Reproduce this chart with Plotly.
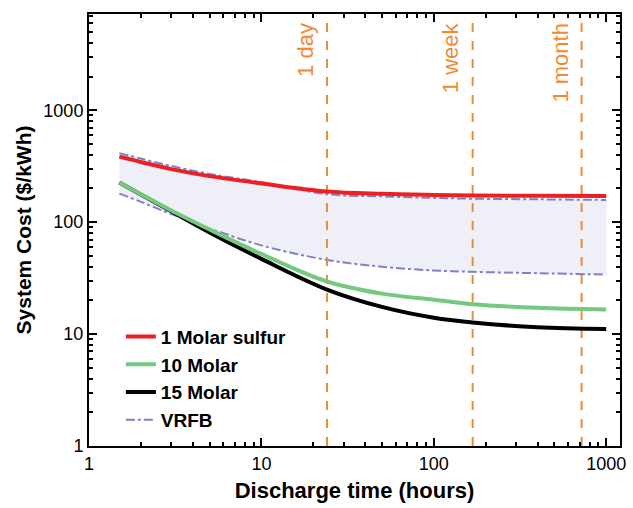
import plotly.graph_objects as go
import numpy as np

hours = [1.5, 2, 3, 5, 10, 24, 50, 100, 168, 400, 1000]
sulfur_1m = [385, 345, 298, 258, 222, 188, 179, 175, 173, 172, 171]
molar_10 = [226, 178, 127, 86, 52, 29.5, 23, 20.3, 18.5, 17.2, 16.6]
molar_15 = [226, 177, 125, 81, 47, 25, 17.5, 14.0, 12.7, 11.5, 11.1]
vrfb_upper = [414, 370, 318, 270, 228, 178, 170, 165, 162, 160, 158]
vrfb_lower = [180, 152, 118, 88, 62, 46, 40, 37, 36, 35, 34]

markers_h = [24, 168, 720]
marker_labels = ["1 day", "1 week", "1 month"]

tick_vals = [1, 10, 100, 1000]
tick_text = ["1", "10", "100", "1000"]

FONT = "Arial, Liberation Sans, sans-serif"
ORANGE = "#f08a30"
VCOL = "#7f7fca"
vline = dict(color=VCOL, width=2, dash="dashdot", shape="spline")

fig = go.Figure()

# VRFB band
fig.add_trace(go.Scatter(x=hours, y=vrfb_lower, mode="lines", line=vline, showlegend=False, hoverinfo="skip"))
fig.add_trace(go.Scatter(x=hours, y=vrfb_upper, mode="lines", line=vline,
                         fill="tonexty", fillcolor="rgba(235,235,246,0.8)", showlegend=False))
# legend entry for VRFB (line only)
fig.add_trace(go.Scatter(x=[None], y=[None], mode="lines", line=vline, name="VRFB", legendrank=4))

# vertical marker lines
for h in markers_h:
    fig.add_trace(go.Scatter(x=[h, h], y=[1, 7300], mode="lines", line=dict(color=ORANGE, width=2, dash="dash"),
                             showlegend=False, hoverinfo="skip"))

fig.add_trace(go.Scatter(x=hours, y=molar_15, mode="lines", line=dict(color="black", width=4, shape="spline"),
                         name="15 Molar", legendrank=3))
fig.add_trace(go.Scatter(x=hours, y=molar_10, mode="lines", line=dict(color="#74c97e", width=4, shape="spline"),
                         name="10 Molar", legendrank=2))
fig.add_trace(go.Scatter(x=hours, y=sulfur_1m, mode="lines", line=dict(color="#ec2024", width=4, shape="spline"),
                         name="1 Molar sulfur", legendrank=1))

for h, lab in zip(markers_h, marker_labels):
    fig.add_annotation(x=np.log10(h), y=0.985, xref="x", yref="paper", text=lab, textangle=-90,
                       showarrow=False, xanchor="right", yanchor="top", xshift=-7,
                       font=dict(family=FONT, size=22, color=ORANGE))

minor_vals = [m * d for d in [1, 10, 100, 1000] for m in range(2, 10)]

axis_common = dict(type="log", showgrid=False, zeroline=False, showline=True, linecolor="black", linewidth=2,
                   mirror="ticks", ticks="inside", ticklen=8, tickwidth=2, tickcolor="black",
                   tickvals=tick_vals, ticktext=tick_text,
                   tickfont=dict(family=FONT, size=18, color="black"),
                   minor=dict(tickvals=minor_vals, ticks="inside", ticklen=4, tickwidth=1.5, tickcolor="black", showgrid=False))

fig.update_xaxes(**axis_common, range=[0, 3.08],
                 title=dict(text="<b>Discharge time (hours)</b>", font=dict(family=FONT, size=22, color="black"), standoff=10))
fig.update_yaxes(**axis_common, range=[0, 3.86],
                 title=dict(text="<b>System Cost ($/kWh)</b>", font=dict(family=FONT, size=21, color="black"), standoff=6))

fig.update_layout(
    width=633, height=508,
    margin=dict(l=89, r=7, t=14, b=62),
    paper_bgcolor="white", plot_bgcolor="white",
    legend=dict(x=0.06, y=0.297, xanchor="left", yanchor="top", bgcolor="rgba(0,0,0,0)", traceorder="normal",
                font=dict(family=FONT, size=19, color="black", weight="bold"), tracegroupgap=0),
    showlegend=True,
)

fig.write_html("out.html")
